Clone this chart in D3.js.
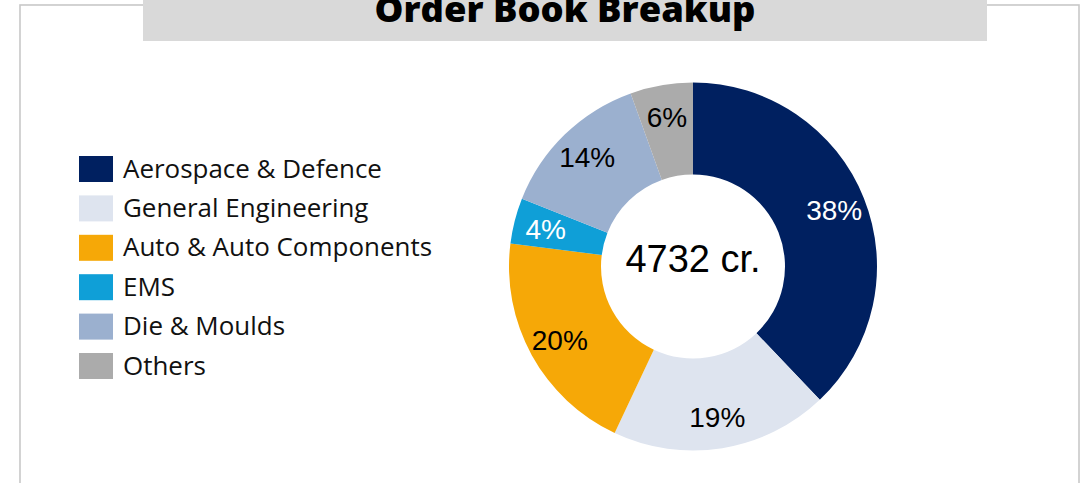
<!DOCTYPE html>
<html>
<head>
<meta charset="utf-8">
<script src="https://cdn.jsdelivr.net/npm/d3@7"></script>
<style>
  html, body { margin: 0; padding: 0; background: #fff; }
  svg { display: block; }
</style>
</head>
<body>
<svg id="chart" width="1082" height="483"></svg>
<script>
// ---- data ----
const title = "Order Book Breakup";
const categories = ["Aerospace & Defence", "General Engineering", "Auto & Auto Components", "EMS", "Die & Moulds", "Others"];
const values = [37.9, 19.1, 20.0, 4.0, 13.5, 5.5];
const labels = ["38%", "19%", "20%", "4%", "14%", "6%"];
const colors = ["#002060", "#DEE4EF", "#F6A807", "#0F9FD7", "#9BB0CF", "#ABABAB"];
const labelColors = ["#ffffff", "#000000", "#000000", "#ffffff", "#000000", "#000000"];
const centerText = "4732 cr.";

// ---- layout ----
const svg = d3.select("#chart");
const W = 1082, H = 483;
const cx = 693, cy = 266.5, rOuter = 184, rInner = 92, rLabel = 152;

// frame
svg.append("rect").attr("x", 20).attr("y", 5).attr("width", 1059).attr("height", 500)
  .attr("fill", "#fff").attr("stroke", "#c8c8c8").attr("stroke-width", 1.6);

// title bar
svg.append("rect").attr("x", 143).attr("y", 0).attr("width", 844).attr("height", 41)
  .attr("fill", "#d9d9d9");
svg.append("text").attr("x", 565).attr("y", 22)
  .attr("text-anchor", "middle")
  .attr("font-family", "'Open Sans', sans-serif").attr("font-weight", 800)
  .attr("font-size", 36)
  .attr("textLength", 381).attr("lengthAdjust", "spacingAndGlyphs")
  .attr("fill", "#000").text(title);

// donut
const pie = d3.pie().value(d => d).sort(null);
const arcs = pie(values);
const arc = d3.arc().innerRadius(rInner).outerRadius(rOuter);
const labelArc = d3.arc().innerRadius(rLabel).outerRadius(rLabel);

const g = svg.append("g").attr("transform", `translate(${cx},${cy})`);
g.selectAll("path.slice").data(arcs).enter().append("path")
  .attr("class", "slice")
  .attr("d", arc)
  .attr("fill", (d, i) => colors[i]);

g.selectAll("text.lbl").data(arcs).enter().append("text")
  .attr("class", "lbl")
  .attr("transform", d => `translate(${labelArc.centroid(d)})`)
  .attr("text-anchor", "middle")
  .attr("dy", "0.36em")
  .attr("font-family", "'Liberation Sans', Arial, sans-serif")
  .attr("font-size", 28)
  .attr("fill", (d, i) => labelColors[i])
  .text((d, i) => labels[i]);

g.append("text")
  .attr("x", 0).attr("y", 5.5)
  .attr("dy", "0")
  .attr("text-anchor", "middle")
  .attr("font-family", "'Liberation Sans', Arial, sans-serif")
  .attr("font-size", 38)
  .attr("fill", "#000")
  .text(centerText);

// legend
const legY = d3.scalePoint().domain(categories).range([156, 353]);
const leg = svg.append("g");
const rows = leg.selectAll("g.row").data(categories).enter().append("g").attr("class", "row")
  .attr("transform", d => `translate(79,${legY(d)})`);
rows.append("rect").attr("width", 34).attr("height", 26).attr("fill", (d, i) => colors[i]);
const legText = rows.append("text").attr("x", 44).attr("y", 21.5)
  .attr("font-family", "'Open Sans', sans-serif")
  .attr("font-size", 22)
  .attr("fill", "#111")
  .text(d => d);
// scale legend font so first label spans ~259px like the reference
const w0 = legText.node().getComputedTextLength();
const fs = 22 * 259 / w0;
legText.attr("font-size", fs);
</script>
</body>
</html>
